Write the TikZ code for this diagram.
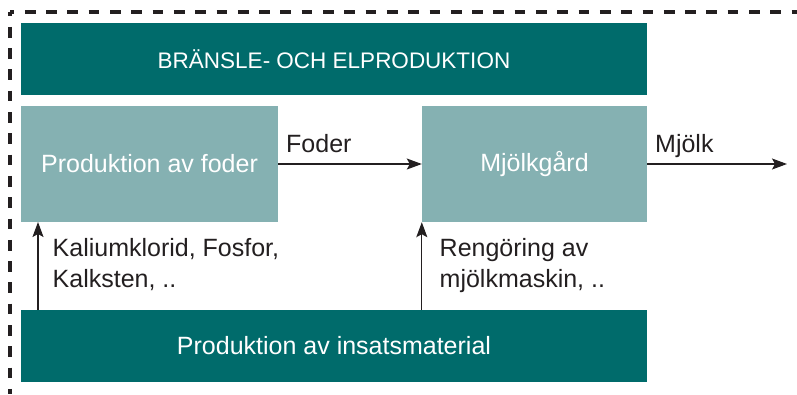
\documentclass[tikz,border=0pt]{standalone}
\usepackage{fontspec}
\setmainfont{Liberation Sans}
\usetikzlibrary{arrows.meta}
\definecolor{teal1}{RGB}{0,107,107}
\definecolor{teal2}{RGB}{133,177,178}
\definecolor{ink}{RGB}{35,31,32}
\begin{document}
\begin{tikzpicture}[x=1pt,y=-1pt,
  darkbox/.style={rectangle,fill=teal1,draw=none,inner sep=0pt,text=white,
    font=\fontsize{25}{30}\selectfont},
  lightbox/.style={rectangle,fill=teal2,draw=none,inner sep=0pt,text=white,
    font=\fontsize{25}{30}\selectfont},
  lbl/.style={inner sep=0pt,anchor=base west,text=ink,align=left,
    font=\fontsize{25}{30.5}\selectfont},
  flow/.style={draw=ink,line width=1.2pt,-{Stealth[length=15pt,width=11pt,inset=3pt]}},
  border/.style={draw=ink,line width=3.2pt,dash pattern=on 10.7pt off 10.6pt,dash phase=6.5pt}
]
\useasboundingbox (0,0) rectangle (797,394);
% dashed frame
\coordinate (corner) at (10,12);
\coordinate (frameR) at (797,12);
\coordinate (frameB) at (10,394);
\draw[border] (corner) -- (frameR);
\draw[border] (corner) -- (frameB);
% boxes
\node[darkbox,minimum width=626pt,minimum height=72pt,font=\fontsize{22.5}{27}\selectfont] (top) at (334,59) {BRÄNSLE- OCH ELPRODUKTION};
\node[lightbox,minimum width=257pt,minimum height=116pt] (foder) at (149.5,164) {Produktion av foder};
\node[lightbox,minimum width=225pt,minimum height=116pt] (gard) at (534.5,164) {Mjölkgård};
\node[darkbox,minimum width=626pt,minimum height=72pt] (ins) at (334,346) {Produktion av insatsmaterial};
% connectors
\draw[flow] (foder.east) -- (gard.west);
\coordinate (out) at (787,164);
\draw[flow] (gard.east) -- (out);
\coordinate (a1) at (38,222);
\draw[flow] (ins.north -| a1) -- (a1);
\draw[flow] (ins.north -| gard.south west) -- (gard.south west);
% labels
\node[lbl] (lfoder) at (286,152) {Foder};
\node[lbl] (lmjolk) at (655,152) {Mjölk};
\node[lbl] (lkal) at (52.5,287) {Kaliumklorid, Fosfor,\\Kalksten, ..};
\node[lbl] (lren) at (439.5,287) {Rengöring av\\mjölkmaskin, ..};
\end{tikzpicture}
\end{document}
